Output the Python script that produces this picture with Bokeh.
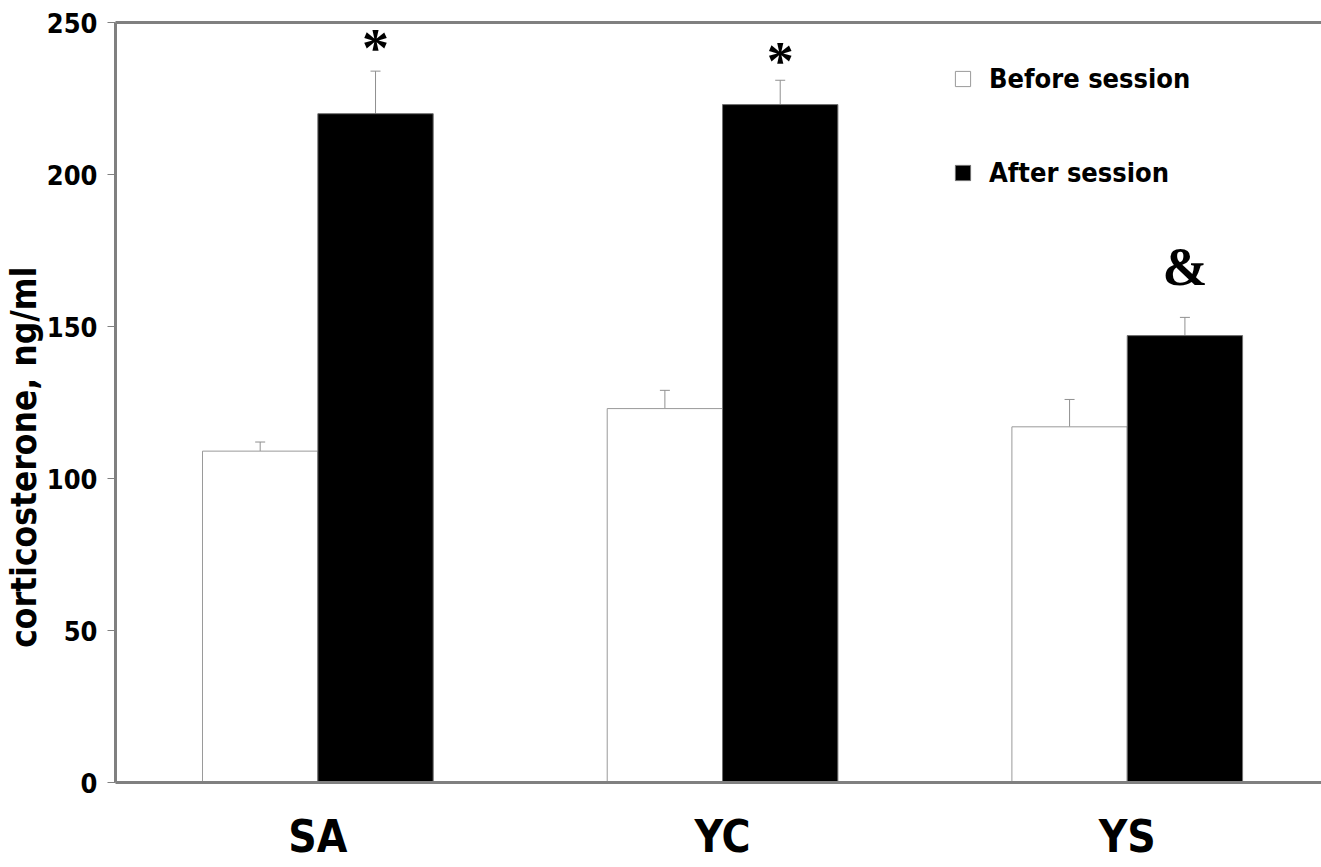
from bokeh.plotting import figure
from bokeh.models import (Range1d, FixedTicker, LinearAxis, Legend, LegendItem,
                          ColumnDataSource, Whisker, TeeHead)
from bokeh.embed import file_html
from bokeh.resources import INLINE
from bokeh.core.properties import value

# ---- data ----
groups = ["SA", "YC", "YS"]
before = [109, 123, 117]
before_err = [3, 6, 9]
after = [220, 223, 147]
after_err = [14, 8, 6]
marks = ["*", "*", "&"]
mark_y = [241.5, 237.5, 169.5]
y_ticks = [0, 50, 100, 150, 200, 250]

FONT = "DejaVu Sans Condensed"
GRAY = "#808080"
bw = 0.285
idx = list(range(len(groups)))

src_b = ColumnDataSource(dict(x=[i - bw / 2 for i in idx], top=before,
                              upper=[v + e for v, e in zip(before, before_err)]))
src_a = ColumnDataSource(dict(x=[i + bw / 2 for i in idx], top=after,
                              upper=[v + e for v, e in zip(after, after_err)]))

p = figure(width=1321, height=867, output_backend="svg", toolbar_location=None,
           x_range=Range1d(-0.5, 2.48), y_range=Range1d(0, 250),
           min_border_left=115, min_border_right=0, min_border_top=22,
           min_border_bottom=85, outline_line_color=None)
p.grid.visible = False
p.background_fill_color = "white"
p.border_fill_color = "white"

rb = p.vbar(x="x", top="top", width=bw, source=src_b, fill_color="white",
            line_color="#9a9a9a", line_width=1)
ra = p.vbar(x="x", top="top", width=bw, source=src_a, fill_color="black",
            line_color="#707070", line_width=1)

for s in (src_b, src_a):
    w = Whisker(base="x", upper="upper", lower="top", source=s,
                line_color="#909090", line_width=1,
                upper_head=TeeHead(size=10, line_color="#909090", line_width=1),
                lower_head=None)
    p.add_layout(w)

p.text(x=[i + bw / 2 for i in idx], y=mark_y, text=marks,
       text_font=value("Liberation Serif"), text_font_style="bold",
       text_font_size="54px", text_align="center", text_baseline="middle",
       text_color="black")

# axes
xa = p.xaxis[0]
xa.ticker = FixedTicker(ticks=idx)
xa.major_label_overrides = {i: g for i, g in zip(idx, groups)}
xa.major_label_text_font = FONT
xa.major_label_text_font_style = "bold"
xa.major_label_text_font_size = "44px"
xa.major_label_text_color = "black"
xa.major_label_standoff = 22
xa.major_tick_line_color = None
xa.minor_tick_line_color = None
xa.axis_line_color = GRAY
xa.axis_line_width = 3

ya = p.yaxis[0]
ya.ticker = FixedTicker(ticks=y_ticks)
ya.major_label_text_font = FONT
ya.major_label_text_font_style = "bold"
ya.major_label_text_font_size = "27px"
ya.major_label_text_color = "black"
ya.major_label_standoff = 10
ya.major_tick_in = 0
ya.major_tick_out = 8
ya.major_tick_line_color = GRAY
ya.minor_tick_line_color = None
ya.axis_line_color = GRAY
ya.axis_line_width = 3
ya.axis_label = "corticosterone, ng/ml" + "\u00a0" * 10
ya.axis_label_text_font = FONT
ya.axis_label_text_font_style = "bold"
ya.axis_label_text_font_size = "35px"
ya.axis_label_text_color = "black"
ya.axis_label_standoff = 0

top_ax = LinearAxis(ticker=FixedTicker(ticks=[]), axis_line_color=GRAY,
                    axis_line_width=3, major_tick_line_color=None,
                    minor_tick_line_color=None, major_label_text_font_size="0px")
p.add_layout(top_ax, "above")

legend = Legend(items=[LegendItem(label="Before session", renderers=[rb]),
                       LegendItem(label="After session", renderers=[ra])],
                location=(838, 594), orientation="vertical",
                label_text_font=FONT, label_text_font_style="bold",
                label_text_font_size="27px", label_text_color="black",
                glyph_width=19, glyph_height=19, label_height=18,
                label_standoff=17, spacing=63, padding=0, margin=0,
                border_line_color=None, background_fill_alpha=0)
p.add_layout(legend)

open("out.html", "w").write(file_html(p, INLINE))
